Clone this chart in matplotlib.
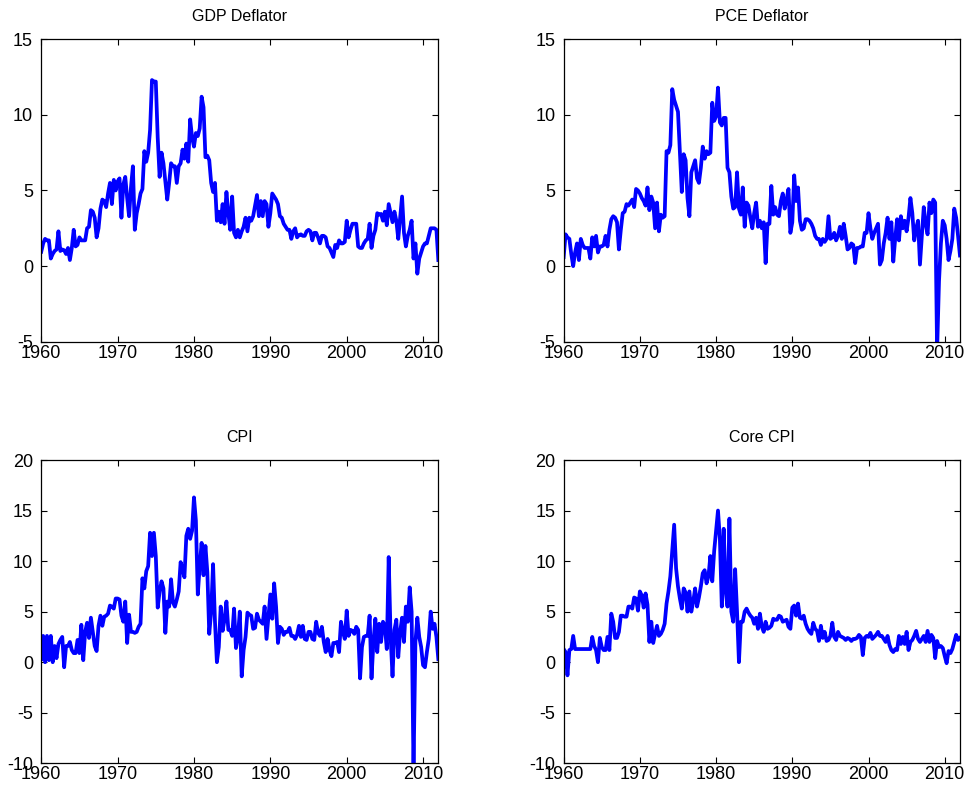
import numpy as np
import matplotlib.pyplot as plt

plt.rcParams['font.family'] = ['Liberation Sans', 'DejaVu Sans']
plt.rcParams['axes.unicode_minus'] = False

# quarterly inflation, annualized percent, 1960Q1 - 2012Q1
gdp_deflator = [
    0.95, 1.5, 1.8, 1.7,  1.7, 0.5, 0.8, 1.0,  1.1, 2.3, 1.0, 1.1,  1.05, 0.8, 1.2, 0.4,
    1.2, 2.4, 1.3, 1.4,  1.9, 1.7, 1.7, 1.7,  2.5, 2.6, 3.7, 3.6,  3.2, 1.9, 2.5, 3.8,
    4.4, 4.3, 3.9, 4.8,  5.5, 4.1, 5.7, 5.0,                                  # 1960s
    5.6, 5.8, 3.2, 5.4,  5.9, 4.5, 3.3, 5.2,  6.6, 2.4, 3.5, 4.1,  4.8, 5.1, 7.6, 6.9,
    7.5, 9.0, 12.3, 12.2,  12.2, 8.5, 5.9, 7.5,  6.8, 5.6, 4.4, 5.5,  6.8, 6.6, 6.6, 5.5,
    6.6, 6.8, 7.7, 7.1,  8.1, 6.9, 9.7, 8.5,                                  # 1970s
    7.9, 8.8, 8.6, 9.1,  11.2, 10.5, 7.2, 7.3,  7.0, 5.5, 4.9, 5.5,  3.0, 3.6, 2.9, 4.1,
    2.8, 4.9, 3.5, 2.4,  4.6, 2.2, 1.9, 2.4,  1.9, 2.3, 2.6, 3.2,  2.3, 3.2, 3.0, 3.3,
    4.0, 4.7, 3.3, 4.3,  3.3, 4.3, 4.1, 2.6,                                  # 1980s
    3.5, 4.8, 4.6, 4.4,  4.1, 3.3, 3.2, 2.8,  2.6, 2.4, 2.4, 1.8,  2.3, 2.5, 1.9, 2.05,
    2.1, 2.0, 2.0, 2.3,  2.4, 2.3, 1.7, 2.2,  2.2, 1.9, 1.5, 2.0,  2.0, 1.9, 1.3, 1.2,
    0.9, 0.6, 1.4, 1.2,  1.7, 1.5, 1.5, 1.6,                                  # 1990s
    3.0, 1.9, 2.4, 2.8,  2.8, 2.8, 1.3, 1.2,  1.2, 1.5, 1.7, 1.8,  2.8, 1.2, 2.0, 2.4,
    3.5, 3.4, 3.45, 3.0,  3.6, 2.7, 4.1, 3.5,  2.9, 3.6, 3.0, 1.8,  3.2, 4.6, 2.2, 1.3,
    2.0, 2.4, 3.0, 0.5,  1.5, -0.5, 0.5, 0.9,                                 # 2000s
    1.3, 1.5, 1.5, 2.0,  2.5, 2.5, 2.5, 2.4,  0.4,
]

pce_deflator = [
    0.6, 2.1, 1.9, 1.8,  0.8, 0.0, 0.9, 1.5,  0.4, 1.8, 1.4, 1.2,  1.2, 1.2, 0.5, 1.9,
    1.3, 2.0, 0.9, 1.3,  1.3, 1.4, 2.0, 1.3,  2.4, 3.1, 3.3, 3.2,  2.9, 1.1, 2.4, 3.5,
    3.6, 4.1, 4.0, 4.2,  4.4, 3.9, 5.1, 5.0,
    4.8, 4.5, 4.3, 4.0,  5.2, 3.7, 4.6, 4.2,  2.5, 4.2, 2.3, 3.4,  3.2, 3.3, 7.6, 7.5,
    8.0, 11.7, 11.0, 10.6,  10.2, 7.5, 4.9, 7.4,  7.0, 4.5, 3.3, 6.2,  6.6, 7.0, 5.8, 5.5,
    6.5, 7.9, 7.1, 7.6,  7.4, 7.5, 10.8, 9.6,
    9.9, 11.8, 9.5, 9.3,  9.8, 9.8, 6.5, 6.2,  4.6, 3.8, 3.9, 6.2,  3.8, 3.4, 5.2, 2.6,
    4.2, 4.0, 3.2, 2.5,  3.5, 4.2, 2.6, 3.0,  2.5, 2.9, 0.2, 2.8,  2.8, 5.3, 3.4, 3.9,
    3.4, 3.3, 4.3, 4.8,  3.8, 4.4, 5.1, 2.2,
    2.9, 6.0, 4.3, 5.2,  3.0, 2.4, 2.5, 3.1,  3.1, 3.0, 2.8, 2.5,  2.0, 1.8, 1.8, 1.4,
    1.8, 1.6, 1.8, 3.3,  1.8, 1.9, 2.2, 1.7,  2.0, 2.6, 1.8, 2.8,  2.0, 1.1, 1.2, 1.5,
    1.4, 0.2, 1.2, 1.2,  1.3, 1.3, 2.2, 2.2,
    3.5, 2.5, 1.8, 2.2,  2.5, 2.8, 0.1, 0.4,  1.5, 2.2, 3.2, 1.8,  2.9, 0.3, 1.8, 3.1,
    1.7, 3.3, 2.5, 3.0,  2.3, 3.2, 4.5, 3.5,  1.7, 2.5, 3.0, 0.1,  2.0, 3.9, 2.8, 2.1,
    4.2, 3.5, 4.4, 4.2,  -5.6, -1.0, 1.5, 3.0,
    2.7, 1.8, 0.4, 1.0,  1.8, 3.8, 3.2, 2.0,  0.7,
]

cpi = [
    0.3, 2.6, 0.0, 2.6,  0.2, 2.6, 0.0, 1.6,  0.4, 1.8, 2.2, 2.5,  -0.5, 1.6, 1.6, 2.0,
    1.2, 0.9, 0.9, 2.2,  0.9, 3.7, 0.2, 3.0,  3.9, 2.4, 4.4, 3.0,  1.6, 1.1, 3.6, 4.6,
    3.6, 4.5, 4.6, 4.8,  5.6, 5.5, 5.3, 6.3,
    6.3, 6.2, 4.6, 4.0,  6.0, 1.9, 4.7, 3.0,  3.0, 2.9, 3.0, 3.5,  3.8, 8.3, 7.3, 9.0,
    9.5, 12.8, 10.5, 12.8,  10.5, 5.4, 7.0, 8.0,  7.3, 2.9, 6.0, 5.5,  8.2, 5.9, 5.5, 6.2,
    7.0, 9.9, 9.2, 8.4,  12.5, 13.2, 12.2, 13.0,
    16.3, 14.0, 6.7, 9.5,  11.8, 8.6, 11.5, 8.9,  2.8, 5.0, 9.7, 4.0,  0.0, 1.5, 5.5, 3.1,
    4.2, 6.0, 3.2, 3.2,  2.6, 5.3, 1.4, 2.5,  5.0, -1.4, 1.2, 2.5,  4.9, 4.7, 4.6, 3.3,
    3.4, 4.8, 4.2, 4.0,  3.8, 5.5, 2.3, 4.5,
    6.7, 4.3, 7.8, 5.5,  1.9, 3.5, 3.3, 2.7,  3.0, 3.0, 3.4, 2.6,  2.6, 2.3, 2.7, 3.6,
    2.5, 3.6, 2.3, 2.2,  3.0, 3.0, 2.3, 2.2,  4.0, 2.9, 2.6, 3.5,  2.0, 1.0, 2.3, 1.2,
    0.6, 1.9, 1.9, 2.0,  1.0, 4.0, 3.0, 2.3,
    5.1, 2.6, 3.2, 3.1,  2.8, 3.5, 3.2, -1.6,  1.5, 2.5, 2.6, 2.6,  4.6, -1.6, 2.0, 4.3,
    1.0, 3.8, 2.0, 4.0,  3.6, 1.3, 10.4, 2.5,  -1.4, 3.2, 4.2, 0.5,  3.0, 4.4, 2.0, 5.5,
    4.0, 7.4, 5.0, -10.6,  2.0, 4.4, 2.5, 1.5,
    -0.3, -0.5, 1.0, 2.3,  5.0, 3.3, 3.8, 2.5,  0.3,
]

core_cpi = [
    1.3, 1.0, -1.3, 1.2,  1.3, 2.6, 1.3, 1.3,  1.3, 1.3, 1.3, 1.3,  1.3, 1.3, 1.3, 2.5,
    1.6, 1.2, 0.0, 2.4,  1.5, 1.2, 1.2, 2.5,  1.2, 4.8, 4.0, 2.4,  2.4, 3.0, 4.6, 4.6,
    4.5, 4.5, 5.5, 5.5,  5.3, 6.4, 6.3, 5.1,
    7.0, 6.6, 5.4, 6.8,  5.7, 2.0, 4.0, 1.9,  2.8, 3.6, 2.6, 2.8,  3.2, 3.8, 5.8, 7.0,
    8.5, 11.0, 13.6, 9.3,  7.5, 6.3, 5.3, 7.3,  6.9, 5.0, 7.0, 5.0,  6.0, 7.3, 5.5, 6.4,
    7.5, 8.8, 9.1, 7.8,  8.5, 10.5, 8.0, 11.0,
    13.0, 15.0, 12.2, 5.5,  13.2, 7.0, 5.5, 14.2,  5.0, 4.0, 9.2, 5.0,  0.0, 4.0, 4.0, 5.0,
    5.3, 4.9, 4.6, 4.4,  3.8, 4.4, 3.3, 4.8,  3.5, 3.0, 4.0, 3.3,  3.4, 3.6, 4.3, 4.2,
    4.2, 4.6, 4.5, 4.0,  4.1, 4.2, 3.5, 3.3,
    5.4, 5.6, 4.6, 5.8,  4.4, 4.3, 4.6, 3.8,  3.3, 3.0, 2.8, 3.9,  3.3, 3.1, 2.1, 3.6,
    2.4, 3.0, 2.1, 2.2,  2.6, 3.9, 2.5, 2.2,  3.0, 2.6, 2.5, 2.4,  2.2, 2.4, 2.3, 2.1,
    2.3, 2.3, 2.4, 2.7,  2.5, 0.7, 2.4, 2.6,
    2.5, 2.9, 2.3, 2.5,  2.7, 3.0, 2.6, 2.6,  2.3, 2.0, 2.6, 1.7,  1.2, 1.0, 1.3, 1.2,
    2.6, 1.8, 2.5, 1.8,  3.0, 1.2, 2.0, 2.2,  2.6, 3.1, 2.3, 2.0,  2.3, 2.6, 2.0, 3.1,
    2.0, 2.7, 2.4, 0.4,  2.1, 1.5, 1.6, 1.4,
    0.6, -0.1, 1.1, 0.9,  1.3, 2.0, 2.7, 2.2,  2.4,
]

titles = ['GDP Deflator', 'PCE Deflator', 'CPI', 'Core CPI']
series = [gdp_deflator, pce_deflator, cpi, core_cpi]
ylims = [(-5, 15), (-5, 15), (-10, 20), (-10, 20)]
yticks = [[-5, 0, 5, 10, 15], [-5, 0, 5, 10, 15],
          [-10, -5, 0, 5, 10, 15, 20], [-10, -5, 0, 5, 10, 15, 20]]
xticks = [1960, 1970, 1980, 1990, 2000, 2010]

fig = plt.figure(figsize=(9.73, 7.96), dpi=100)
boxes = [
    [0.0424, 0.5707, 0.4081, 0.3800],
    [0.5793, 0.5707, 0.4073, 0.3800],
    [0.0424, 0.0411, 0.4081, 0.3810],
    [0.5793, 0.0411, 0.4073, 0.3810],
]

for box, title, y, ylim, yt in zip(boxes, titles, series, ylims, yticks):
    ax = fig.add_axes(box)
    t = 1960 + np.arange(len(y)) / 4.0
    ax.plot(t, y, color=(0, 0, 1), linewidth=2.7, solid_joinstyle='round')
    ax.set_xlim(1960, t[-1])
    ax.set_ylim(*ylim)
    ax.set_xticks(xticks)
    ax.set_yticks(yt)
    ax.tick_params(direction='in', length=4, width=0.8, top=True, right=True,
                   labelsize=13)
    ax.tick_params(axis='x', pad=2)
    ax.tick_params(axis='y', pad=6)
    for sp in ax.spines.values():
        sp.set_linewidth(0.9)
    ax.set_title(title, fontsize=11.5, pad=13)

fig.savefig('out.png', dpi=100)
